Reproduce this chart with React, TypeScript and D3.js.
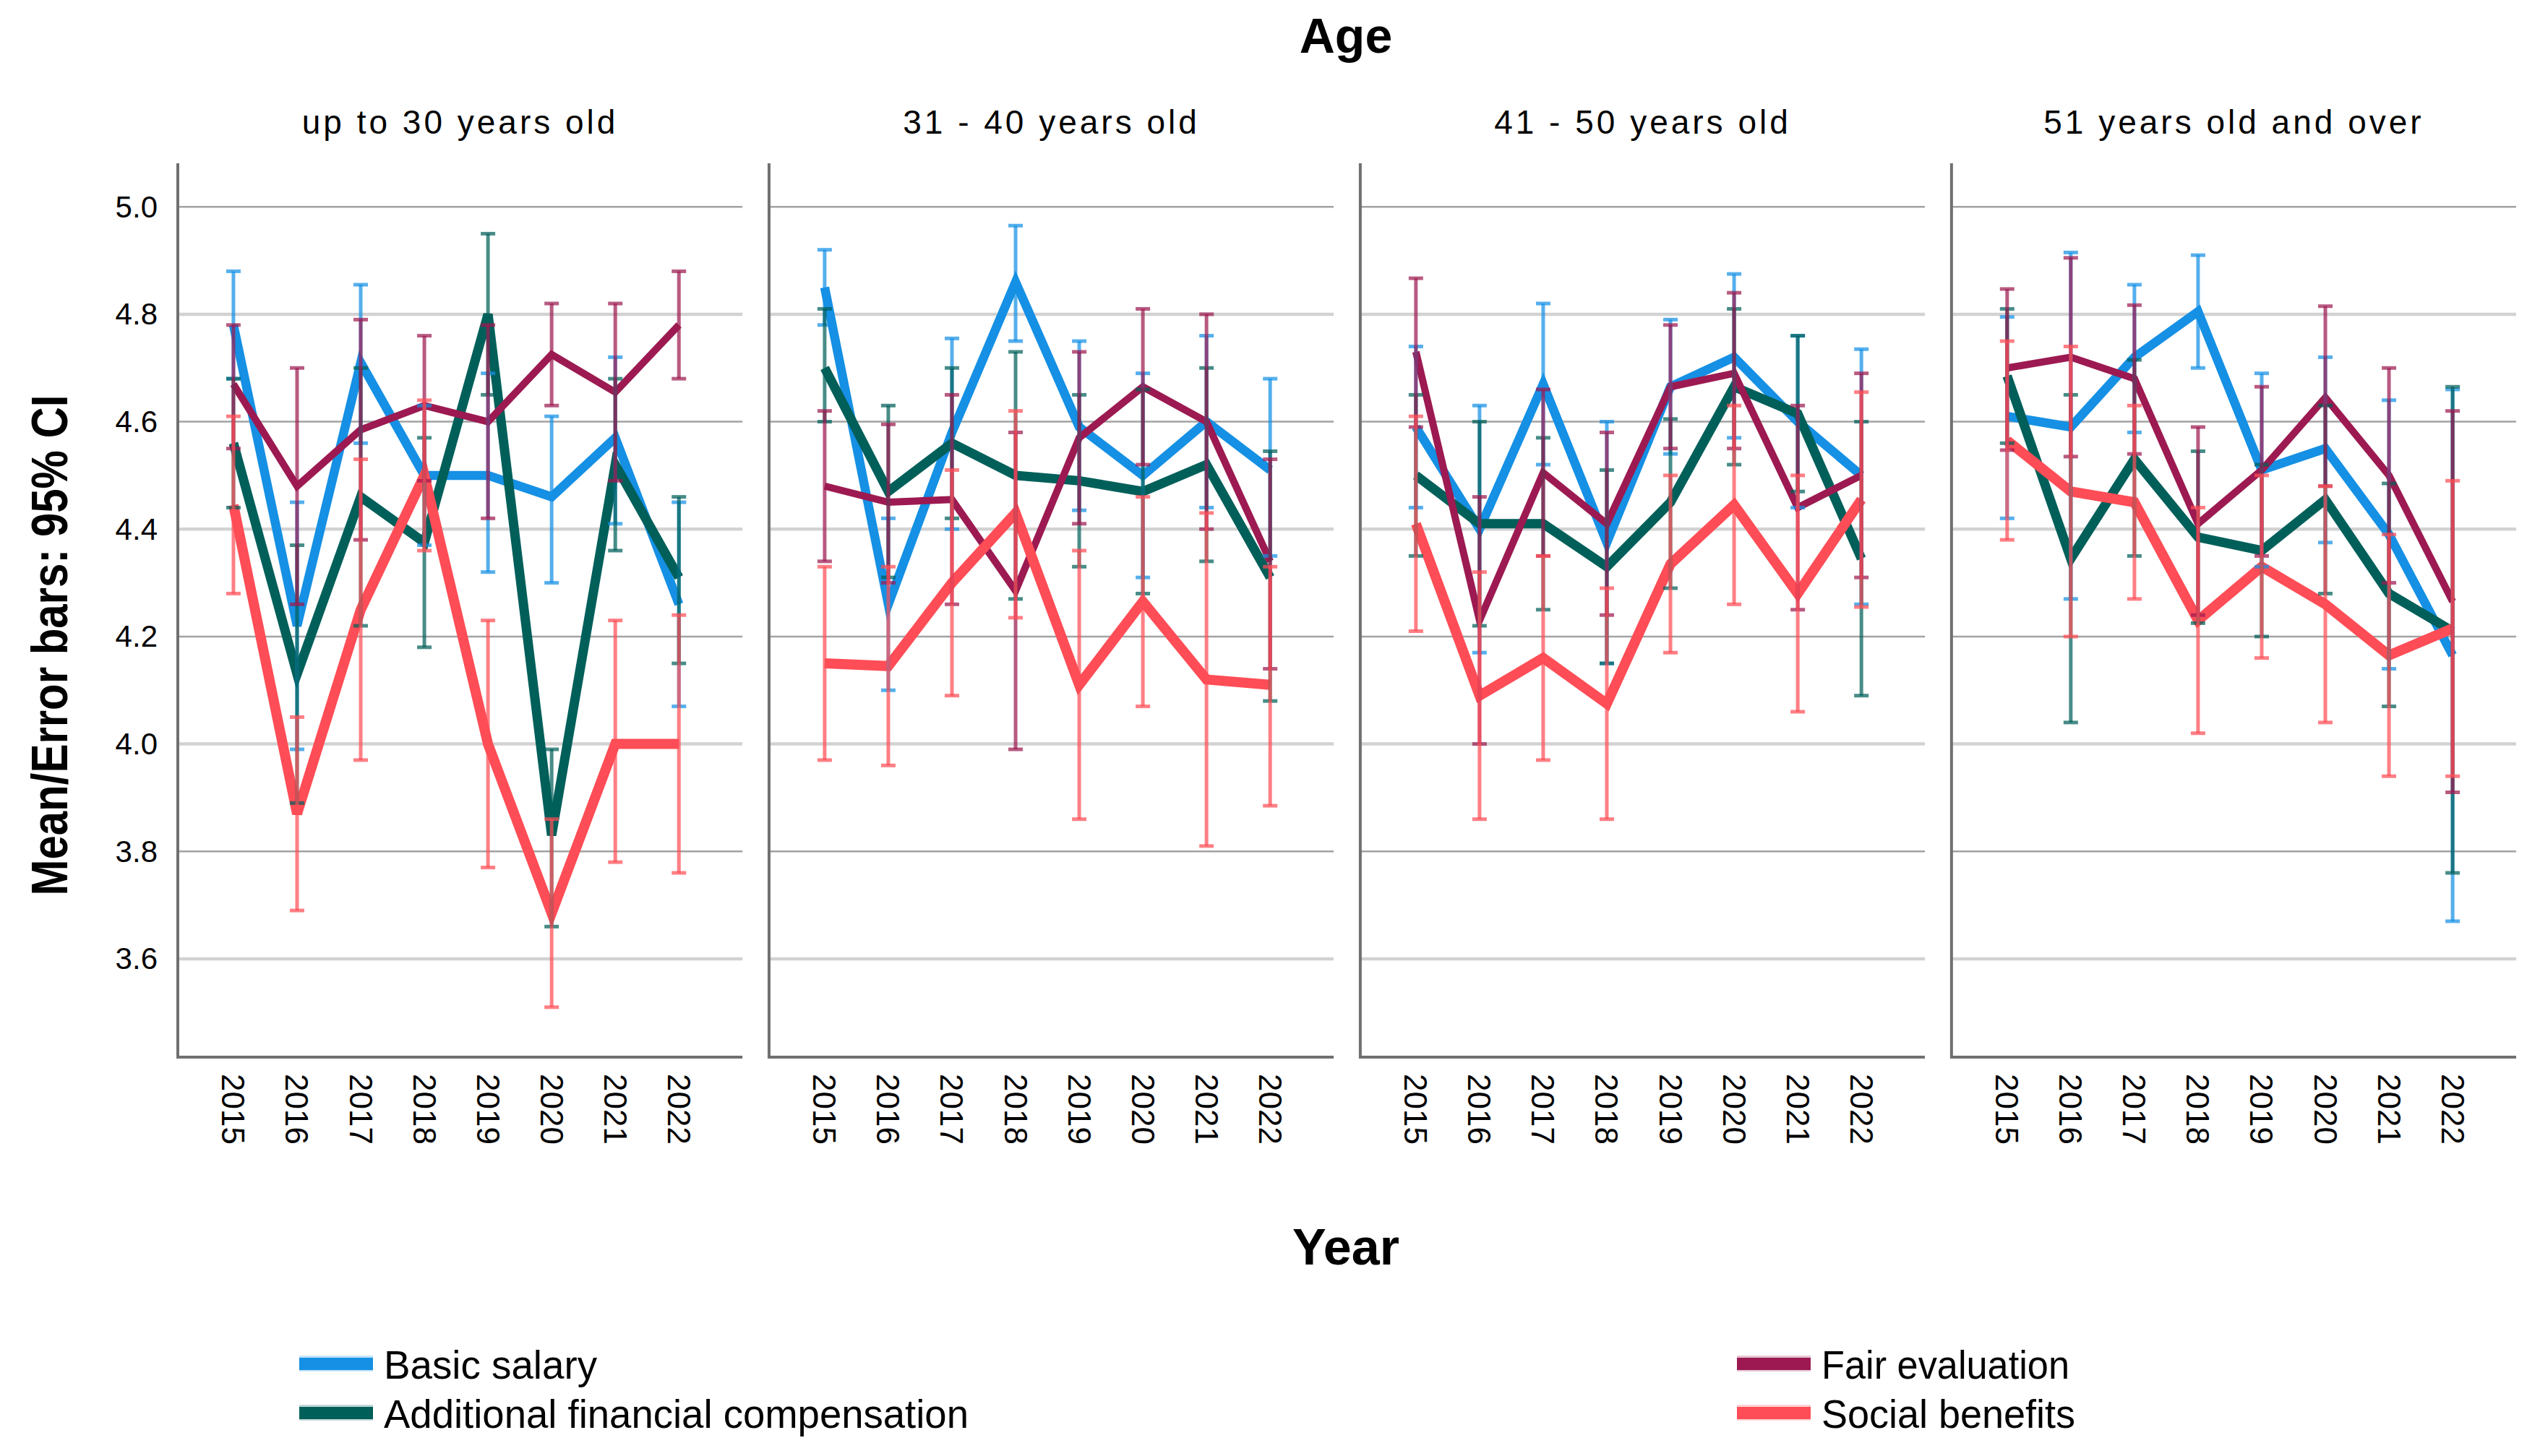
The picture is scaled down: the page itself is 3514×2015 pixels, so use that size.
import { useEffect } from "react";
import * as d3 from "d3";

// ---- data ----
const YEARS = ["2015", "2016", "2017", "2018", "2019", "2020", "2021", "2022"];
const AGE_GROUPS = [
  "up to 30 years old",
  "31 - 40 years old",
  "41 - 50 years old",
  "51 years old and over",
];
const SERIES = [
  "Basic salary",
  "Additional financial compensation",
  "Fair evaluation",
  "Social benefits",
];
const COLORS = ["#1590e4", "#015f5a", "#9c1a51", "#fe4d56"];

// one row per age group, one value per year
const basicMean = [
  [4.78, 4.22, 4.71, 4.5, 4.5, 4.46, 4.57, 4.26],
  [4.85, 4.26, 4.58, 4.86, 4.59, 4.5, 4.6, 4.51],
  [4.59, 4.4, 4.67, 4.375, 4.665, 4.72, 4.6, 4.5],
  [4.61, 4.59, 4.72, 4.805, 4.51, 4.55, 4.39, 4.165],
];
const basicLow = [
  [4.68, 3.99, 4.56, 4.37, 4.32, 4.3, 4.41, 4.07],
  [4.78, 4.1, 4.4, 4.75, 4.435, 4.31, 4.44, 4.35],
  [4.44, 4.17, 4.52, 4.15, 4.54, 4.57, 4.44, 4.26],
  [4.42, 4.27, 4.58, 4.7, 4.33, 4.375, 4.14, 3.67],
];
const basicHigh = [
  [4.88, 4.45, 4.855, 4.63, 4.69, 4.61, 4.72, 4.45],
  [4.92, 4.42, 4.755, 4.965, 4.75, 4.69, 4.76, 4.68],
  [4.74, 4.63, 4.82, 4.6, 4.79, 4.875, 4.76, 4.735],
  [4.795, 4.915, 4.855, 4.91, 4.69, 4.72, 4.64, 4.66],
];

const additionalMean = [
  [4.56, 4.13, 4.46, 4.375, 4.8, 3.83, 4.52, 4.31],
  [4.7, 4.47, 4.56, 4.5, 4.49, 4.47, 4.52, 4.31],
  [4.5, 4.41, 4.41, 4.33, 4.45, 4.665, 4.615, 4.345],
  [4.685, 4.345, 4.53, 4.385, 4.36, 4.455, 4.28, 4.21],
];
const additionalLow = [
  [4.44, 3.89, 4.22, 4.18, 4.65, 3.66, 4.36, 4.15],
  [4.6, 4.31, 4.42, 4.27, 4.33, 4.28, 4.34, 4.08],
  [4.35, 4.22, 4.25, 4.15, 4.29, 4.52, 4.47, 4.09],
  [4.56, 4.04, 4.35, 4.225, 4.2, 4.28, 4.07, 3.76],
];
const additionalHigh = [
  [4.68, 4.37, 4.7, 4.57, 4.95, 3.99, 4.68, 4.46],
  [4.81, 4.63, 4.7, 4.73, 4.65, 4.66, 4.7, 4.545],
  [4.65, 4.6, 4.57, 4.51, 4.605, 4.81, 4.76, 4.6],
  [4.81, 4.65, 4.715, 4.545, 4.52, 4.63, 4.485, 4.665],
];

const fairMean = [
  [4.67, 4.48, 4.585, 4.63, 4.6, 4.725, 4.655, 4.78],
  [4.48, 4.45, 4.455, 4.285, 4.57, 4.665, 4.6, 4.34],
  [4.73, 4.23, 4.505, 4.41, 4.665, 4.69, 4.44, 4.5],
  [4.7, 4.72, 4.68, 4.41, 4.51, 4.645, 4.5, 4.265],
];
const fairLow = [
  [4.55, 4.26, 4.38, 4.49, 4.42, 4.63, 4.49, 4.68],
  [4.34, 4.3, 4.26, 3.99, 4.41, 4.52, 4.4, 4.14],
  [4.59, 4.0, 4.35, 4.24, 4.55, 4.55, 4.25, 4.31],
  [4.547, 4.535, 4.54, 4.24, 4.35, 4.48, 4.3, 3.91],
];
const fairHigh = [
  [4.78, 4.7, 4.79, 4.76, 4.78, 4.82, 4.82, 4.88],
  [4.62, 4.595, 4.65, 4.58, 4.73, 4.81, 4.8, 4.53],
  [4.867, 4.46, 4.66, 4.58, 4.78, 4.84, 4.63, 4.69],
  [4.847, 4.905, 4.817, 4.59, 4.665, 4.815, 4.7, 4.62],
];

const socialMean = [
  [4.445, 3.87, 4.25, 4.5, 4.0, 3.685, 4.0, 4.0],
  [4.15, 4.145, 4.3, 4.43, 4.11, 4.265, 4.12, 4.11],
  [4.41, 4.09, 4.16, 4.075, 4.335, 4.445, 4.28, 4.455],
  [4.565, 4.47, 4.45, 4.23, 4.33, 4.26, 4.165, 4.215],
];
const socialLow = [
  [4.28, 3.69, 3.97, 4.36, 3.77, 3.51, 3.78, 3.76],
  [3.97, 3.96, 4.09, 4.235, 3.86, 4.07, 3.81, 3.885],
  [4.21, 3.86, 3.97, 3.86, 4.17, 4.26, 4.06, 4.255],
  [4.38, 4.2, 4.27, 4.02, 4.16, 4.04, 3.94, 3.94],
];
const socialHigh = [
  [4.61, 4.05, 4.53, 4.64, 4.23, 3.86, 4.23, 4.24],
  [4.33, 4.33, 4.51, 4.62, 4.36, 4.46, 4.43, 4.33],
  [4.61, 4.32, 4.35, 4.29, 4.5, 4.63, 4.5, 4.655],
  [4.75, 4.74, 4.63, 4.44, 4.5, 4.48, 4.39, 4.49],
];

const MEANS = [basicMean, additionalMean, fairMean, socialMean];
const LOWS = [basicLow, additionalLow, fairLow, socialLow];
const HIGHS = [basicHigh, additionalHigh, fairHigh, socialHigh];

// ---- layout ----
const W = 3514;
const H = 2015;
const FONT = "'Liberation Sans', Arial, sans-serif";
const LINE_WIDTHS = [12.5, 13, 10, 14];
const LEGEND_WIDTHS = [295, 809, 343, 351];

export default function App() {
  useEffect(() => {
    document.body.style.margin = "0";
    document.body.style.overflow = "hidden";
  }, []);

  const panelScale = d3
    .scaleBand<string>()
    .domain(AGE_GROUPS)
    .range([246, 3481])
    .paddingInner(0.045)
    .paddingOuter(0);
  const bw = panelScale.bandwidth();

  const yScale = d3.scaleLinear().domain([3.417, 5.081]).range([1463, 226]);
  const yTicks = yScale.ticks(8);

  const xFor = (group: string) => {
    const x0 = panelScale(group) as number;
    return d3
      .scalePoint<string>()
      .domain(YEARS)
      .range([x0 + 0.0985 * bw, x0 + 0.8875 * bw]);
  };

  const line = d3
    .line<[number, number]>()
    .x((d) => d[0])
    .y((d) => d[1]);

  const capHalf = 10;

  return (
    <svg
      width={W}
      height={H}
      style={{ position: "absolute", left: 0, top: 0, background: "#fff" }}
      fontFamily={FONT}
    >
      <rect x={0} y={0} width={W} height={H} fill="#fff" />
      <text x={1862} y={73} textAnchor="middle" fontSize={68} fontWeight="bold">
        Age
      </text>

      {AGE_GROUPS.map((group, gi) => {
        const x0 = panelScale(group) as number;
        const xs = xFor(group);
        return (
          <g key={group}>
            <text
              x={x0 + bw / 2}
              y={185}
              textAnchor="middle"
              fontSize={46}
              letterSpacing={4}
            >
              {group}
            </text>
            {yTicks.map((t) => {
              const dark = Math.round(t * 5) % 2 === 1;
              return (
                <line
                  key={t}
                  x1={x0}
                  x2={x0 + bw}
                  y1={yScale(t)}
                  y2={yScale(t)}
                  stroke={dark ? "#a2a2a2" : "#d2d2d2"}
                  strokeWidth={dark ? 2.5 : 4.5}
                />
              );
            })}
            {gi === 0 &&
              yTicks.map((t) => (
                <text
                  key={t}
                  x={218}
                  y={yScale(t)}
                  textAnchor="end"
                  dominantBaseline="central"
                  fontSize={42}
                >
                  {t.toFixed(1)}
                </text>
              ))}
            {SERIES.map((s, si) => {
              const pts = YEARS.map(
                (yr, yi) =>
                  [xs(yr) as number, yScale(MEANS[si][gi][yi])] as [number, number]
              );
              return (
                <path
                  key={s}
                  d={line(pts) as string}
                  fill="none"
                  stroke={COLORS[si]}
                  strokeWidth={LINE_WIDTHS[si]}
                  strokeLinejoin="miter"
                />
              );
            })}
            {SERIES.map((s, si) => (
              <g key={s} stroke={COLORS[si]} strokeOpacity={0.72} strokeWidth={5}>
                {YEARS.map((yr, yi) => {
                  const x = xs(yr) as number;
                  const lo = yScale(LOWS[si][gi][yi]);
                  const hi = yScale(HIGHS[si][gi][yi]);
                  return (
                    <g key={yr}>
                      <line x1={x} x2={x} y1={lo} y2={hi} />
                      <line x1={x - capHalf} x2={x + capHalf} y1={lo} y2={lo} />
                      <line x1={x - capHalf} x2={x + capHalf} y1={hi} y2={hi} />
                    </g>
                  );
                })}
              </g>
            ))}
            <line x1={x0} x2={x0} y1={226} y2={1465} stroke="#707070" strokeWidth={4} />
            <line x1={x0} x2={x0 + bw} y1={1463} y2={1463} stroke="#707070" strokeWidth={4} />
            {YEARS.map((yr) => (
              <text
                key={yr}
                transform={`translate(${xs(yr)},1486) rotate(90)`}
                textAnchor="start"
                dominantBaseline="central"
                fontSize={44}
              >
                {yr}
              </text>
            ))}
          </g>
        );
      })}

      <text
        transform="translate(93,893) rotate(-90)"
        textAnchor="middle"
        fontSize={70}
        fontWeight="bold"
        textLength={693}
        lengthAdjust="spacingAndGlyphs"
      >
        Mean/Error bars: 95% CI
      </text>

      <text x={1862} y={1750} textAnchor="middle" fontSize={70} fontWeight="bold">
        Year
      </text>

      {SERIES.map((s, si) => {
        const col = si < 2 ? 0 : 1;
        const row = si % 2;
        const sx = col === 0 ? 414 : 2403;
        const cy = 1887 + row * 68;
        return (
          <g key={s}>
            <rect x={sx} y={cy - 11} width={102} height={22} fill={COLORS[si]} opacity={0.25} />
            <rect x={sx} y={cy - 8} width={102} height={17} fill={COLORS[si]} />
            <text
              x={sx + 117}
              y={cy + 21}
              fontSize={56}
              textLength={LEGEND_WIDTHS[si]}
              lengthAdjust="spacingAndGlyphs"
            >
              {s}
            </text>
          </g>
        );
      })}
    </svg>
  );
}
